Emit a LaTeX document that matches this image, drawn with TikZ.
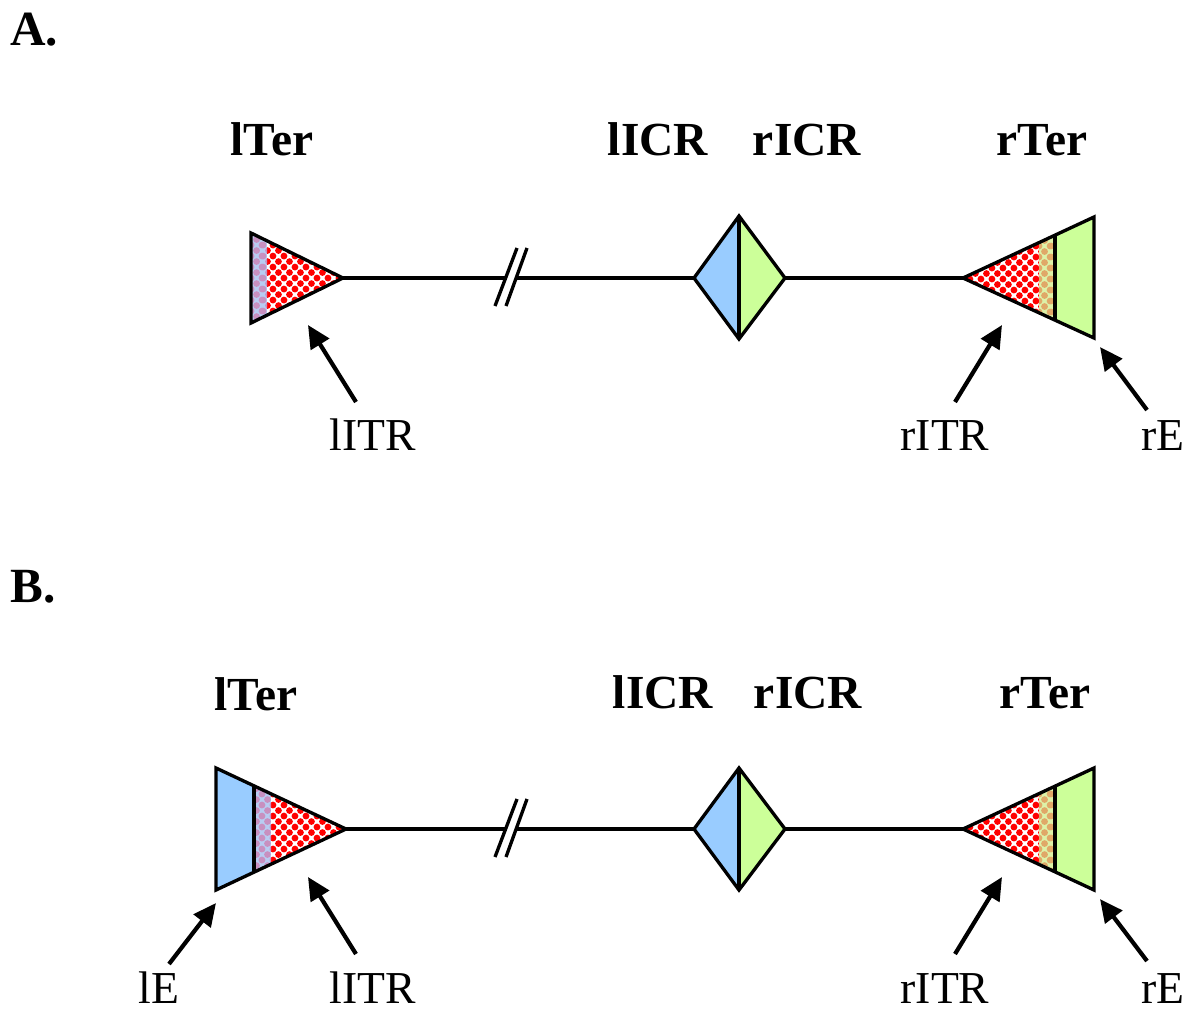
\documentclass[tikz,border=0pt]{standalone}
\usepackage{fontspec}
\setmainfont{Liberation Serif}
\usetikzlibrary{arrows.meta,patterns.meta}

\definecolor{cblue}{HTML}{99CCFF}
\definecolor{cgreen}{HTML}{CCFF99}
\definecolor{cred}{HTML}{FF0000}
\definecolor{lavbg}{HTML}{B8CCF2}
\definecolor{lavdot}{HTML}{C890C0}
\definecolor{yelbg}{HTML}{DDF2A8}
\definecolor{yeldot}{HTML}{E0A868}

\tikzdeclarepattern{
  name=balls, type=uncolored,
  bottom left={(0pt,0pt)}, top right={(6.5pt,6.5pt)},
  tile size={(6.5pt,6.5pt)},
  code={
    \fill (0pt,0pt) circle (2pt);
    \fill (6.5pt,0pt) circle (2pt);
    \fill (0pt,6.5pt) circle (2pt);
    \fill (6.5pt,6.5pt) circle (2pt);
    \fill (3.25pt,3.25pt) circle (2pt);
  }
}

\tikzset{
  outline/.style={draw=black, line width=1.9pt, line join=miter},
  conn/.style={line width=1.9pt},
  ptr/.style={line width=2.4pt, -{Triangle[length=13pt,width=12pt]}},
  toplab/.style={font=\fontsize{27}{30}\selectfont\bfseries, anchor=base, inner sep=0pt},
  sublab/.style={font=\fontsize{26}{30}\selectfont, anchor=base, inner sep=0pt},
  panel/.style={font=\fontsize{28}{32}\selectfont\bfseries, anchor=base west, inner sep=0pt},
}

\begin{document}
\begin{tikzpicture}[x=0.02cm,y=-0.02cm]
\useasboundingbox (0,0) rectangle (1200,1018);

% ================= Panel A =================
\node[panel] (pA) at (10,45) {A.};

% lTer (A)
\coordinate (aLt) at (251,233);
\coordinate (aLb) at (251,323);
\coordinate (aLtip) at (343,278);
\begin{scope}
  \clip (aLt)--(aLtip)--(aLb)--cycle;
  \fill[white] (245,225) rectangle (350,330);
  \fill[pattern=balls, pattern color=cred] (267,225) rectangle (350,330);
  \fill[lavbg] (245,225) rectangle (267,330);
  \fill[pattern=balls, pattern color=lavdot] (245,225) rectangle (267,330);
\end{scope}
\draw[outline] (aLt)--(aLtip)--(aLb)--cycle;

% line with break (A)
\coordinate (aB1) at (506,278);
\coordinate (aB2) at (517,278);
\coordinate (aS1a) at (495,306); \coordinate (aS1b) at (517,248);
\coordinate (aS2a) at (506,306); \coordinate (aS2b) at (527,248);
\draw[conn] (aLtip) -- (aB1);
\draw[conn] (aS1a) -- (aS1b);
\draw[conn] (aS2a) -- (aS2b);

% diamond (A)
\coordinate (aDl) at (694,278);
\coordinate (aDt) at (739,216);
\coordinate (aDr) at (785,278);
\coordinate (aDb) at (739,339);
\draw[conn] (aB2) -- (aDl);
\fill[cblue] (aDl)--(aDt)--(aDb)--cycle;
\fill[cgreen] (aDt)--(aDr)--(aDb)--cycle;
\draw[outline] (aDl)--(aDt)--(aDr)--(aDb)--cycle;
\draw[outline] (aDt)--(aDb);

% rTer (A)
\coordinate (aRtip) at (963,278);
\coordinate (aRt) at (1094,217);
\coordinate (aRb) at (1094,338);
\coordinate (aRvt) at (1055,235.2);
\coordinate (aRvb) at (1055,320.8);
\draw[conn] (aDr) -- (aRtip);
\begin{scope}
  \clip (aRtip)--(aRt)--(aRb)--cycle;
  \fill[white] (955,210) rectangle (1100,345);
  \fill[pattern=balls, pattern color=cred] (955,210) rectangle (1039,345);
  \fill[yelbg] (1039,210) rectangle (1055,345);
  \fill[pattern=balls, pattern color=yeldot] (1039,210) rectangle (1055,345);
  \fill[cgreen] (1055,210) rectangle (1100,345);
\end{scope}
\draw[outline] (aRtip)--(aRt)--(aRb)--cycle;
\draw[outline] (aRvt)--(aRvb);

% labels (A)
\node[toplab] (aLTer) at (272,155) {lTer};
\node[toplab] (aLICR) at (658,155) {lICR};
\node[toplab] (aRICR) at (807,155) {rICR};
\node[toplab] (aRTer) at (1042,155) {rTer};

\node[sublab] (aLITR) at (373,450) {lITR};
\node[sublab] (aRITR) at (945,450) {rITR};
\node[sublab] (aRE) at (1163,450) {rE};

\coordinate (aA1s) at (356,402); \coordinate (aA1e) at (308,325);
\coordinate (aA2s) at (955,402); \coordinate (aA2e) at (1002,325);
\coordinate (aA3s) at (1147,410); \coordinate (aA3e) at (1100,347);
\draw[ptr] (aA1s) -- (aA1e);
\draw[ptr] (aA2s) -- (aA2e);
\draw[ptr] (aA3s) -- (aA3e);

% ================= Panel B =================
\node[panel] (pB) at (10,602) {B.};

% lTer (B)
\coordinate (bLt) at (216,768);
\coordinate (bLb) at (216,890);
\coordinate (bLtip) at (346,829);
\coordinate (bLvt) at (254,785.8);
\coordinate (bLvb) at (254,872.2);
\begin{scope}
  \clip (bLt)--(bLtip)--(bLb)--cycle;
  \fill[white] (210,760) rectangle (350,900);
  \fill[pattern=balls, pattern color=cred] (271,760) rectangle (350,900);
  \fill[lavbg] (254,760) rectangle (271,900);
  \fill[pattern=balls, pattern color=lavdot] (254,760) rectangle (271,900);
  \fill[cblue] (210,760) rectangle (254,900);
\end{scope}
\draw[outline] (bLt)--(bLtip)--(bLb)--cycle;
\draw[outline] (bLvt)--(bLvb);

% line with break (B)
\coordinate (bB1) at (506,829);
\coordinate (bB2) at (517,829);
\coordinate (bS1a) at (495,857); \coordinate (bS1b) at (517,799);
\coordinate (bS2a) at (506,857); \coordinate (bS2b) at (527,799);
\draw[conn] (bLtip) -- (bB1);
\draw[conn] (bS1a) -- (bS1b);
\draw[conn] (bS2a) -- (bS2b);

% diamond (B)
\coordinate (bDl) at (694,829);
\coordinate (bDt) at (739,768);
\coordinate (bDr) at (785,829);
\coordinate (bDb) at (739,890);
\draw[conn] (bB2) -- (bDl);
\fill[cblue] (bDl)--(bDt)--(bDb)--cycle;
\fill[cgreen] (bDt)--(bDr)--(bDb)--cycle;
\draw[outline] (bDl)--(bDt)--(bDr)--(bDb)--cycle;
\draw[outline] (bDt)--(bDb);

% rTer (B)
\coordinate (bRtip) at (963,829);
\coordinate (bRt) at (1094,768);
\coordinate (bRb) at (1094,890);
\coordinate (bRvt) at (1055,786.2);
\coordinate (bRvb) at (1055,871.8);
\draw[conn] (bDr) -- (bRtip);
\begin{scope}
  \clip (bRtip)--(bRt)--(bRb)--cycle;
  \fill[white] (955,760) rectangle (1100,900);
  \fill[pattern=balls, pattern color=cred] (955,760) rectangle (1039,900);
  \fill[yelbg] (1039,760) rectangle (1055,900);
  \fill[pattern=balls, pattern color=yeldot] (1039,760) rectangle (1055,900);
  \fill[cgreen] (1055,760) rectangle (1100,900);
\end{scope}
\draw[outline] (bRtip)--(bRt)--(bRb)--cycle;
\draw[outline] (bRvt)--(bRvb);

% labels (B)
\node[toplab] (bLTer) at (256,710) {lTer};
\node[toplab] (bLICR) at (663,708) {lICR};
\node[toplab] (bRICR) at (808,708) {rICR};
\node[toplab] (bRTer) at (1045,708) {rTer};

\node[sublab] (bLE) at (159,1003) {lE};
\node[sublab] (bLITR) at (373,1003) {lITR};
\node[sublab] (bRITR) at (945,1003) {rITR};
\node[sublab] (bRE) at (1163,1003) {rE};

\coordinate (bA0s) at (169,964); \coordinate (bA0e) at (216,903);
\coordinate (bA1s) at (356,954); \coordinate (bA1e) at (308,877);
\coordinate (bA2s) at (955,954); \coordinate (bA2e) at (1002,877);
\coordinate (bA3s) at (1147,961); \coordinate (bA3e) at (1100,899);
\draw[ptr] (bA0s) -- (bA0e);
\draw[ptr] (bA1s) -- (bA1e);
\draw[ptr] (bA2s) -- (bA2e);
\draw[ptr] (bA3s) -- (bA3e);
\end{tikzpicture}
\end{document}
